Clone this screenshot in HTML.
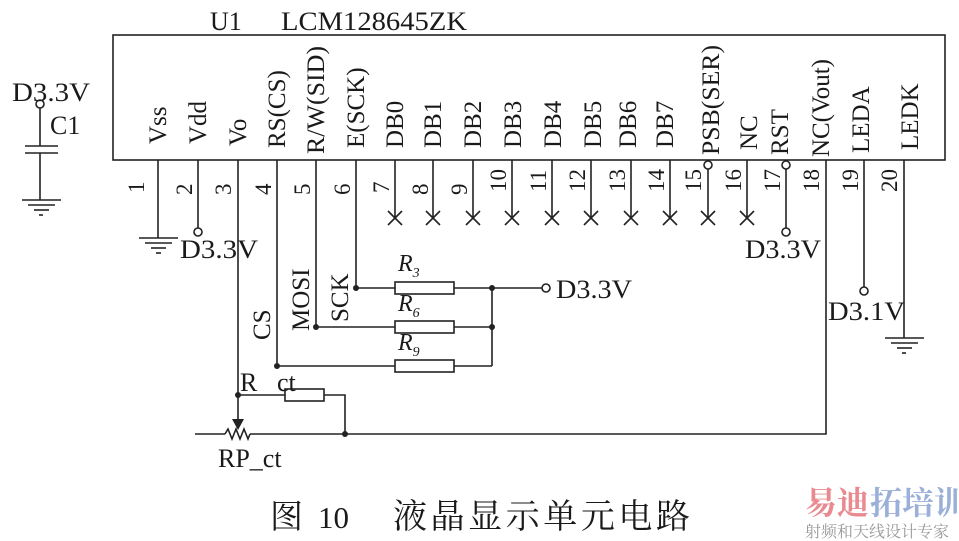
<!DOCTYPE html>
<html><head><meta charset="utf-8"><style>
html,body{margin:0;padding:0;background:#fff;}
svg{display:block;}
text{font-family:"Liberation Serif","Noto Serif CJK SC",serif;fill:#1a1a1a;}
</style></head><body>
<svg width="959" height="541" viewBox="0 0 959 541" xmlns="http://www.w3.org/2000/svg">
<g stroke="#222" stroke-width="1.6" fill="none">
<rect x="113" y="35" width="832" height="125"/>
<line x1="40" y1="108" x2="40" y2="146"/>
<line x1="25" y1="146" x2="58" y2="146"/>
<line x1="25" y1="153" x2="58" y2="153"/>
<line x1="40" y1="153" x2="40" y2="200"/>
<line x1="22" y1="200" x2="61" y2="200"/>
<line x1="28" y1="205" x2="55" y2="205"/>
<line x1="34" y1="210" x2="49" y2="210"/>
<line x1="39" y1="215" x2="43" y2="215"/>
<circle cx="40" cy="104" r="4" fill="#fff"/>
<line x1="158" y1="160" x2="158" y2="238"/>
<line x1="139" y1="238" x2="178" y2="238"/>
<line x1="145" y1="243" x2="172" y2="243"/>
<line x1="151" y1="248" x2="166" y2="248"/>
<line x1="156" y1="253" x2="161" y2="253"/>
<line x1="198" y1="160" x2="198" y2="228"/>
<circle cx="198" cy="232" r="4" fill="#fff"/>
<line x1="238" y1="160" x2="238" y2="420"/>
<polyline points="277,160 277,366 395,366"/>
<polyline points="316,160 316,327 395,327"/>
<polyline points="356,160 356,288 395,288"/>
<rect x="395" y="282" width="59" height="12"/>
<rect x="395" y="321" width="59" height="12"/>
<rect x="395" y="360" width="59" height="12"/>
<line x1="454" y1="288" x2="542" y2="288"/>
<line x1="454" y1="327" x2="492" y2="327"/>
<line x1="454" y1="366" x2="492" y2="366"/>
<line x1="492" y1="288" x2="492" y2="366"/>
<circle cx="546" cy="288" r="4" fill="#fff"/>
<line x1="238" y1="395" x2="285" y2="395"/>
<rect x="285" y="389" width="39" height="12"/>
<polyline points="324,395 345,395 345,434"/>
<line x1="195" y1="434" x2="225" y2="434"/>
<polyline points="225,434 228,429 232,439 236,429 240,439 244,429 248,439 250,434"/>
<polyline points="250,434 826,434 826,160"/>
<line x1="395" y1="160" x2="395" y2="218"/><path d="M388,211 L402,225 M402,211 L388,225"/>
<line x1="433" y1="160" x2="433" y2="218"/><path d="M426,211 L440,225 M440,211 L426,225"/>
<line x1="473" y1="160" x2="473" y2="218"/><path d="M466,211 L480,225 M480,211 L466,225"/>
<line x1="512" y1="160" x2="512" y2="218"/><path d="M505,211 L519,225 M519,211 L505,225"/>
<line x1="552" y1="160" x2="552" y2="218"/><path d="M545,211 L559,225 M559,211 L545,225"/>
<line x1="591" y1="160" x2="591" y2="218"/><path d="M584,211 L598,225 M598,211 L584,225"/>
<line x1="631" y1="160" x2="631" y2="218"/><path d="M624,211 L638,225 M638,211 L624,225"/>
<line x1="670" y1="160" x2="670" y2="218"/><path d="M663,211 L677,225 M677,211 L663,225"/>
<line x1="708" y1="169" x2="708" y2="218"/><path d="M701,211 L715,225 M715,211 L701,225"/>
<circle cx="708" cy="165" r="4" fill="#fff"/>
<line x1="747" y1="160" x2="747" y2="218"/><path d="M740,211 L754,225 M754,211 L740,225"/>
<line x1="786" y1="169" x2="786" y2="228"/>
<circle cx="786" cy="165" r="4" fill="#fff"/>
<circle cx="786" cy="232" r="4" fill="#fff"/>
<line x1="864" y1="160" x2="864" y2="287"/>
<circle cx="864" cy="291" r="4" fill="#fff"/>
<line x1="904" y1="160" x2="904" y2="338"/>
<line x1="885" y1="338" x2="924" y2="338"/>
<line x1="891" y1="343" x2="918" y2="343"/>
<line x1="897" y1="348" x2="912" y2="348"/>
<line x1="902" y1="353" x2="906" y2="353"/>
</g>
<polygon points="232,419 244,419 238,430" fill="#222"/>
<g fill="#222">
<circle cx="356" cy="288" r="3"/><circle cx="316" cy="327" r="3"/><circle cx="277" cy="366" r="3"/>
<circle cx="492" cy="288" r="3"/><circle cx="492" cy="327" r="3"/>
<circle cx="238" cy="395" r="3"/><circle cx="345" cy="434" r="3"/>
</g>
<g font-size="26">
<text x="210" y="30">U1</text>
<text x="281" y="30" textLength="186" lengthAdjust="spacingAndGlyphs">LCM128645ZK</text>
<text x="12" y="101" textLength="78" lengthAdjust="spacingAndGlyphs">D3.3V</text>
<text x="50" y="134">C1</text>
<text x="180" y="258" textLength="78" lengthAdjust="spacingAndGlyphs">D3.3V</text>
<text x="745" y="258" textLength="76" lengthAdjust="spacingAndGlyphs">D3.3V</text>
<text x="556" y="298" textLength="76" lengthAdjust="spacingAndGlyphs">D3.3V</text>
<text x="828" y="320" textLength="77" lengthAdjust="spacingAndGlyphs">D3.1V</text>
<text x="240" y="391">R</text>
<text x="277" y="391">ct</text>
<text x="218" y="467">RP_ct</text>
<text x="398" y="271" font-style="italic" font-size="24">R<tspan font-size="14" dy="6">3</tspan></text>
<text x="398" y="311" font-style="italic" font-size="24">R<tspan font-size="14" dy="6">6</tspan></text>
<text x="398" y="350" font-style="italic" font-size="24">R<tspan font-size="14" dy="6">9</tspan></text>
</g>
<g font-size="25">
<text transform="translate(270,340) rotate(-90)">CS</text>
<text transform="translate(309,331) rotate(-90)">MOSI</text>
<text transform="translate(348,322) rotate(-90)">SCK</text>
</g>
<g font-size="25">
<text transform="translate(166,144) rotate(-90)">Vss</text>
<text transform="translate(206,144) rotate(-90)">Vdd</text>
<text transform="translate(246,146) rotate(-90)">Vo</text>
<text transform="translate(285,148) rotate(-90)">RS(CS)</text>
<text transform="translate(324,154) rotate(-90)" textLength="108" lengthAdjust="spacingAndGlyphs">R/W(SID)</text>
<text transform="translate(364,148) rotate(-90)">E(SCK)</text>
<text transform="translate(403,148) rotate(-90)">DB0</text>
<text transform="translate(441,148) rotate(-90)">DB1</text>
<text transform="translate(481,148) rotate(-90)">DB2</text>
<text transform="translate(521,148) rotate(-90)">DB3</text>
<text transform="translate(561,148) rotate(-90)">DB4</text>
<text transform="translate(601,148) rotate(-90)">DB5</text>
<text transform="translate(636,148) rotate(-90)">DB6</text>
<text transform="translate(673,148) rotate(-90)">DB7</text>
<text transform="translate(719,155) rotate(-90)" textLength="110" lengthAdjust="spacingAndGlyphs">PSB(SER)</text>
<text transform="translate(757,150) rotate(-90)">NC</text>
<text transform="translate(788,155) rotate(-90)">RST</text>
<text transform="translate(829,157) rotate(-90)" textLength="98" lengthAdjust="spacingAndGlyphs">NC(Vout)</text>
<text transform="translate(869,153) rotate(-90)">LEDA</text>
<text transform="translate(918,150) rotate(-90)">LEDK</text>
</g>
<g font-size="23">
<text transform="translate(144,193) rotate(-90)">1</text>
<text transform="translate(192,195) rotate(-90)">2</text>
<text transform="translate(231,195) rotate(-90)">3</text>
<text transform="translate(271,195) rotate(-90)">4</text>
<text transform="translate(310,195) rotate(-90)">5</text>
<text transform="translate(350,195) rotate(-90)">6</text>
<text transform="translate(389,193) rotate(-90)">7</text>
<text transform="translate(428,195) rotate(-90)">8</text>
<text transform="translate(467,195) rotate(-90)">9</text>
<text transform="translate(506,192) rotate(-90)">10</text>
<text transform="translate(546,192) rotate(-90)">11</text>
<text transform="translate(585,192) rotate(-90)">12</text>
<text transform="translate(625,192) rotate(-90)">13</text>
<text transform="translate(664,192) rotate(-90)">14</text>
<text transform="translate(701,192) rotate(-90)">15</text>
<text transform="translate(741,192) rotate(-90)">16</text>
<text transform="translate(780,192) rotate(-90)">17</text>
<text transform="translate(819,192) rotate(-90)">18</text>
<text transform="translate(858,192) rotate(-90)">19</text>
<text transform="translate(897,192) rotate(-90)">20</text>
</g>
<text x="270" y="528" font-size="33" font-family="'Noto Serif CJK SC',serif">图</text>
<text x="318" y="528" font-size="31">10</text>
<text x="393" y="528" font-size="34" textLength="297" font-family="'Noto Serif CJK SC',serif">液晶显示单元电路</text>
<text x="805" y="514" font-size="32" style="fill:#e88a90" font-family="'Noto Sans CJK SC',sans-serif" font-weight="bold">易迪</text>
<text x="870" y="514" font-size="32" style="fill:#9bb0d8" font-family="'Noto Sans CJK SC',sans-serif" font-weight="bold">拓培训</text>
<text x="805" y="537" font-size="16" style="fill:#999" font-family="'Noto Sans CJK SC',sans-serif">射频和天线设计专家</text>
</svg>
</body></html>
